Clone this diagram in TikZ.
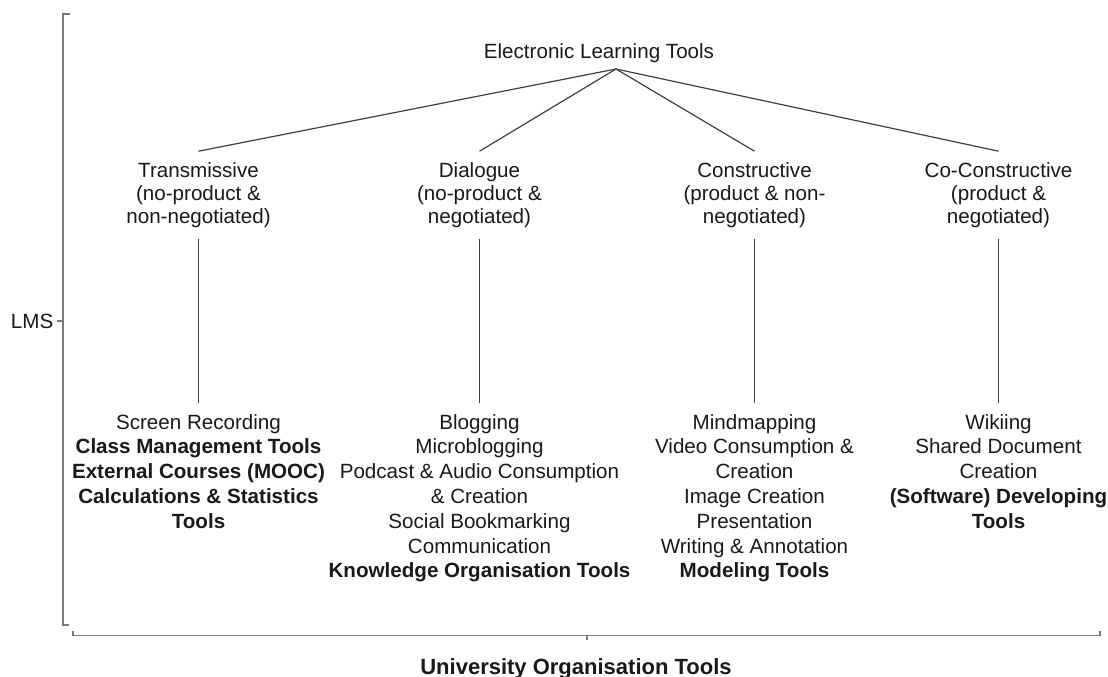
\documentclass[tikz,border=0pt]{standalone}
\usepackage{fontspec}
\setmainfont{Liberation Sans}
\begin{document}
\begin{tikzpicture}[x=1pt, y=-1pt,
		every node/.style={text=black!90},
		cat/.style={align=center, inner xsep=4pt, inner ysep=11pt, font=\fontsize{20.6}{23}\selectfont},
		tools/.style={align=center, anchor=north, inner xsep=4pt, inner ysep=11pt, font=\fontsize{20.6}{24.8}\selectfont},
		level 1/.style={sibling distance=267pt, level distance=142pt,
			edge from parent path={([shift={(17,16)}]\tikzparentnode.center) -- (\tikzchildnode.north)}},
		level 2/.style={level distance=208pt,
			edge from parent path={(\tikzparentnode.south) -- (\tikzchildnode.north)}},
		edge from parent/.style={draw=black!75, line width=1.2pt},
		axis/.style={draw=black!52, line width=1.8pt} ]
	\useasboundingbox (0,0) rectangle (1108,677);
	\node [font=\fontsize{20.6}{23}\selectfont] (elt) at (599,53) {Electronic Learning Tools}
	  child {
		node [cat] (trans) {Transmissive\\(no-product \&\\non-negotiated)}
		child { node [tools] (transtools) {Screen Recording\\\textbf{Class Management Tools}\\\textbf{External Courses (MOOC)}\\\textbf{Calculations \& Statistics}\\\textbf{Tools}} }
	  }
	  child[xshift=14pt] {
		node [cat] (dial) {Dialogue\\(no-product \&\\negotiated)}
		child { node [tools] (dialtools) {Blogging\\Microblogging\\Podcast \& Audio Consumption\\\& Creation\\Social Bookmarking\\Communication\\\textbf{Knowledge Organisation Tools}} }
	  }
	  child[xshift=22pt] {
		node [cat] (cons) {Constructive\\(product \& non-\\negotiated)}
		child { node [tools] (constools) {Mindmapping\\Video Consumption \&\\Creation\\Image Creation\\Presentation\\Writing \& Annotation\\\textbf{Modeling Tools}} }
	  }
	  child[xshift=-1pt] {
		node [cat] (cocons) {Co-Constructive\\(product \&\\negotiated)}
		child { node [tools] (coconstools) {Wikiing\\Shared Document\\Creation\\\textbf{(Software) Developing}\\\textbf{Tools}} }
	  };
	% axes
	\node [anchor=east, inner xsep=3.5pt, inner ysep=1pt, font=\fontsize{20.6}{23}\selectfont] (lms) at (57,321) {LMS};
	\node [anchor=base, font=\bfseries\fontsize{22}{26}\selectfont] (uot) at (576,674) {University Organisation Tools};
	\draw[axis] (70,14) -- (63,14) -- (63,625) -- (69,625);
	\draw[axis] (lms.east) -- (63,321);
	\draw[axis] (73,631) -- (73,635.5) -- (1100,635.5) -- (1100,631);
	\draw[axis] (587,635.5) -- (587,640);
\end{tikzpicture}
\end{document}
